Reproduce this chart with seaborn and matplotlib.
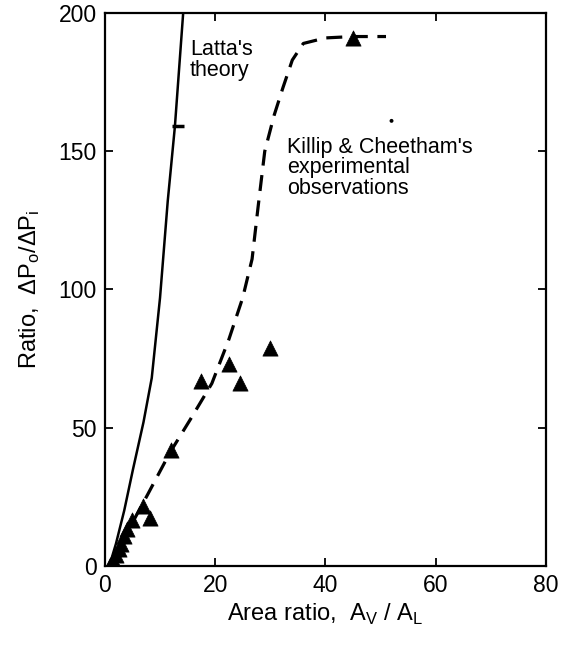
import matplotlib
matplotlib.use("Agg")
import matplotlib.pyplot as plt
import seaborn as sns
import pandas as pd

# Experimental observations (Killip & Cheetham)
obs_x = [1.0, 1.5, 2.0, 2.5, 3.0, 3.5, 4.0, 5.0, 7.0, 8.2, 12.0, 17.5, 22.5, 24.5, 30.0, 45.0]
obs_y = [0.5, 2.0, 4.0, 6.0, 8.0, 11.0, 13.5, 16.5, 21.5, 17.5, 42.0, 67.0, 73.0, 66.0, 79.0, 191.0]

# Latta's theory curve
latta_x = [0.8, 2.0, 3.5, 5.1, 7.0, 8.5, 10.0, 11.4, 12.7, 14.2]
latta_y = [0.0, 8.0, 20.0, 35.0, 52.0, 68.0, 97.0, 132.0, 159.0, 200.0]

# Dashed fit through experimental observations
fit_x = [0.8, 4.0, 7.8, 11.8, 15.5, 19.4, 22.5, 25.0, 26.7, 27.8, 29.0, 30.7, 32.3, 34.0, 36.0, 40.0, 45.0, 51.0]
fit_y = [0.0, 12.0, 26.0, 41.0, 53.0, 66.0, 82.0, 97.0, 111.0, 130.0, 150.0, 163.0, 173.0, 183.0, 189.0, 191.0, 191.5, 191.5]

# Small marks in the original print
mark_x = [52.0]
mark_y = [161.0]
dash_x = [13.3]
dash_y = [159.0]

x_ticks = [0, 20, 40, 60, 80]
y_ticks = [0, 50, 100, 150, 200]

sns.set_style("ticks")
plt.rcParams["font.family"] = ["Liberation Sans", "DejaVu Sans"]
plt.rcParams["mathtext.fontset"] = "custom"
plt.rcParams["mathtext.rm"] = "Liberation Sans"
plt.rcParams["text.color"] = "black"
plt.rcParams["axes.labelcolor"] = "black"
plt.rcParams["xtick.color"] = "black"
plt.rcParams["ytick.color"] = "black"
plt.rcParams["axes.edgecolor"] = "black"

fig = plt.figure(figsize=(5.61, 6.52), dpi=100)
ax = fig.add_axes([0.187, 0.132, 0.786, 0.848])

sns.lineplot(x=latta_x, y=latta_y, ax=ax, color="black", lw=1.8, sort=False)
sns.lineplot(x=fit_x, y=fit_y, ax=ax, color="black", lw=2.3, sort=False,
             linestyle=(0, (5, 3)))
sns.scatterplot(x=obs_x, y=obs_y, ax=ax, marker="^", s=120, color="black",
                edgecolor="black", linewidth=0.5, zorder=5)
sns.scatterplot(x=mark_x, y=mark_y, ax=ax, marker="o", s=8, color="black",
                edgecolor="none", zorder=5)
ax.plot(dash_x, dash_y, marker="_", markersize=9, mew=2.5, color="black",
        linestyle="none")

ax.set_xlim(0, 80)
ax.set_ylim(0, 200)
ax.set_xticks(x_ticks)
ax.set_yticks(y_ticks)
ax.tick_params(direction="in", length=6, width=1.3, labelsize=16.5,
               top=True, right=True, pad=6)
for s in ax.spines.values():
    s.set_linewidth(1.6)
    s.set_visible(True)

ax.set_xlabel(r"Area ratio,  A$_\mathregular{V}$ / A$_\mathregular{L}$",
              fontsize=17, labelpad=3)
ax.set_ylabel(r"Ratio,  $\mathregular{\Delta P_o / \Delta P_i}$",
              fontsize=17, labelpad=12)

ax.text(15.4, 183, "Latta's\ntheory", fontsize=15.5, va="center", ha="left",
        linespacing=0.95)
ax.text(33.0, 144, "Killip & Cheetham's\nexperimental\nobservations",
        fontsize=15.5, va="center", ha="left", linespacing=0.95)

fig.savefig("out.png", dpi=100)
